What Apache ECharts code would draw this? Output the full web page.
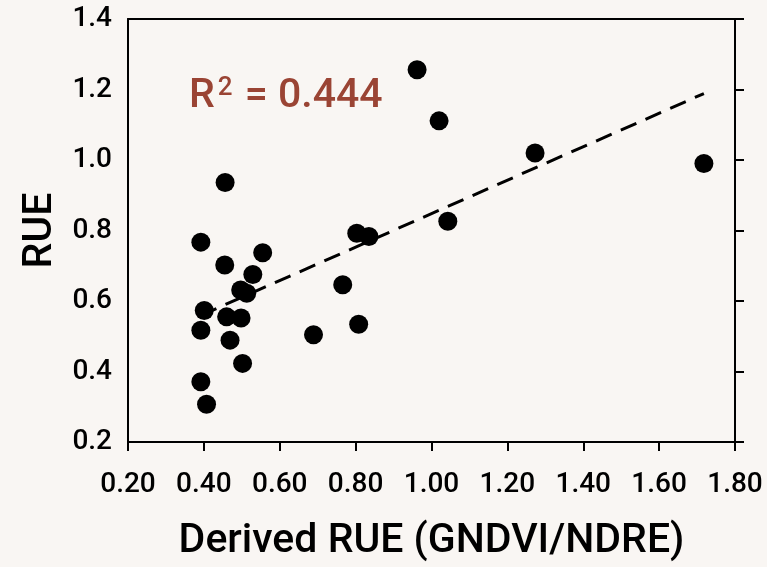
<!DOCTYPE html>
<html>
<head>
<meta charset="utf-8">
<script src="https://cdn.jsdelivr.net/npm/echarts@6/dist/echarts.min.js"></script>
<style>
html,body{margin:0;padding:0;background:#f9f6f3;}
#chart{width:767px;height:567px;}
</style>
</head>
<body>
<div id="chart"></div>
<script>
// Data
var derivedRUE = [0.962, 1.020, 1.273, 1.718, 1.043, 0.803, 0.835, 0.766, 0.808, 0.689,
                  0.392, 0.555, 0.455, 0.529, 0.497, 0.513, 0.401, 0.460, 0.498, 0.392,
                  0.469, 0.502, 0.392, 0.407, 0.456];
var rue = [1.256, 1.111, 1.020, 0.990, 0.826, 0.792, 0.783, 0.646, 0.534, 0.504,
           0.767, 0.737, 0.702, 0.675, 0.631, 0.622, 0.573, 0.555, 0.552, 0.517,
           0.489, 0.423, 0.371, 0.307, 0.936];
var xTicks = [0.2, 0.4, 0.6, 0.8, 1.0, 1.2, 1.4, 1.6, 1.8];
var yTicks = [0.2, 0.4, 0.6, 0.8, 1.0, 1.2, 1.4];
var r2Text = '0.444';
var xTitle = 'Derived RUE (GNDVI/NDRE)';
var yTitle = 'RUE';

var points = derivedRUE.map(function (x, i) { return [x, rue[i]]; });

// least squares trendline from the data
var n = points.length, sx = 0, sy = 0, sxx = 0, sxy = 0;
points.forEach(function (p) { sx += p[0]; sy += p[1]; sxx += p[0] * p[0]; sxy += p[0] * p[1]; });
var slope = (n * sxy - sx * sy) / (n * sxx - sx * sx);
var intercept = (sy - slope * sx) / n;
var xMin = Math.min.apply(null, derivedRUE), xMax = Math.max.apply(null, derivedRUE);
var trend = [[xMin, intercept + slope * xMin], [xMax, intercept + slope * xMax]];

var FONT = 'Roboto';
var chart = echarts.init(document.getElementById('chart'));
var axisLine = { show: true, lineStyle: { color: '#000', width: 2 } };
chart.setOption({
  backgroundColor: '#f9f6f3',
  animation: false,
  grid: { left: 128, right: 32, top: 19, bottom: 124, containLabel: false },
  title: {
    left: 184, top: 70,
    text: '{a|R}{s|2}{a| = ' + r2Text + '}',
    textStyle: {
      rich: {
        a: { fontFamily: FONT, fontSize: 41, fontWeight: 500, color: '#9a4434', lineHeight: 44 },
        s: { fontFamily: FONT, fontSize: 26, fontWeight: 500, color: '#9a4434', verticalAlign: 'top', lineHeight: 44, padding: [0, 2, 14, 3] }
      }
    }
  },
  xAxis: [{
    type: 'value', min: 0.2, max: 1.8, interval: 0.2, position: 'bottom',
    axisLine: axisLine,
    axisTick: { show: true, inside: false, length: 9, lineStyle: { color: '#000', width: 2 } },
    splitLine: { show: false },
    axisLabel: { margin: 29, color: '#000', fontFamily: FONT, fontSize: 28, fontWeight: 500,
      formatter: function (v) { return v.toFixed(2); } },
    name: xTitle, nameLocation: 'middle', nameGap: 79,
    nameTextStyle: { fontFamily: FONT, fontSize: 41, fontWeight: 500, color: '#000' }
  }, {
    type: 'value', min: 0.2, max: 1.8, interval: 0.2, position: 'top',
    axisLine: axisLine, axisTick: { show: false }, axisLabel: { show: false }, splitLine: { show: false }
  }],
  yAxis: [{
    type: 'value', min: 0.2, max: 1.4, interval: 0.2, position: 'left',
    axisLine: axisLine, axisTick: { show: false },
    splitLine: { show: false },
    axisLabel: { margin: 16, color: '#000', fontFamily: FONT, fontSize: 28, fontWeight: 500,
      formatter: function (v) { return v.toFixed(1); } },
    name: yTitle, nameLocation: 'middle', nameGap: 66,
    nameTextStyle: { fontFamily: FONT, fontSize: 41, fontWeight: 500, color: '#000' }
  }, {
    type: 'value', min: 0.2, max: 1.4, interval: 0.2, position: 'right',
    axisLine: axisLine,
    axisTick: { show: true, inside: false, length: 9, lineStyle: { color: '#000', width: 2 } },
    axisLabel: { show: false }, splitLine: { show: false }
  }],
  series: [{
    type: 'line', data: trend, showSymbol: false, symbol: 'none',
    lineStyle: { color: '#000', width: 3, type: [17, 10] }, z: 1
  }, {
    type: 'scatter', data: points, symbol: 'circle', symbolSize: 19,
    itemStyle: { color: '#000', opacity: 1 }, z: 2
  }]
});
</script>
</body>
</html>
